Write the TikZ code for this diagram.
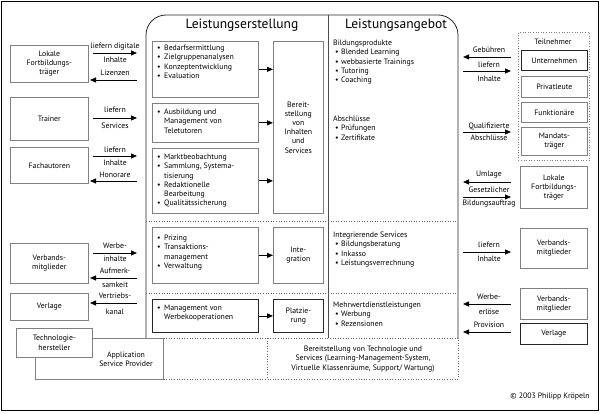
\documentclass[tikz,border=0pt]{standalone}
\usepackage{fontspec}
\setmainfont{PT Sans}
\usetikzlibrary{arrows.meta}
\newcommand{\bl}{\makebox[7pt][l]{•}}
\newcommand{\ind}{\hspace*{7pt}}
\newcommand{\blr}{\hspace*{2pt}\makebox[6pt][l]{•}}
\begin{document}
\begin{tikzpicture}[x=1pt,y=-1pt,
  every node/.style={font=\fontsize{7.8}{9.2}\selectfont, inner sep=0pt},
  gbox/.style={draw=black!50, line width=0.7pt, anchor=north west, align=center},
  kbox/.style={draw=black!85, line width=0.8pt, anchor=north west, align=center},
  lst/.style={align=left, anchor=north west},
  ctr/.style={align=center},
  arr/.style={-{Triangle[length=6pt,width=5pt]}, line width=0.8pt},
  dots/.style={draw=black!60, dotted, line width=0.6pt},
  ttl/.style={font=\fontsize{13.5}{15}\selectfont}
]
\useasboundingbox (0,0) rectangle (600,414);
% outer frame
\draw[line width=1pt] (1.5,1.5) rectangle (598.5,410.5);

% central frame
\draw[line width=0.8pt, black!85, rounded corners=20pt] (146,338) -- (146,15) -- (458,15) -- (458,338);
\draw[line width=0.7pt, black!70] (328,15) -- (328,338);
\draw[dots] (146,221) -- (458,221);
\draw[dots] (146,293) -- (458,293);
\node[ttl] (t1) at (242,25) {Leistungserstellung};
\node[ttl] (t2) at (396,25) {Leistungsangebot};

% left column boxes
\node[gbox, minimum width=106, minimum height=56] (a1) at (152,41) {};
\node[gbox, minimum width=106, minimum height=39] (a2) at (152,103) {};
\node[gbox, minimum width=106, minimum height=65] (a3) at (152,148) {};
\node[gbox, minimum width=106, minimum height=56] (b1) at (152,227) {};
\node[kbox, minimum width=106, minimum height=33] (c1) at (152,299) {};
\node[lst] (a1t) at (157,44) {\strut\bl Bedarfsermittlung\\\bl Zielgruppenanalysen\\\bl Konzeptentwicklung\\\bl Evaluation};
\node[lst] (a2t) at (157,108) {\strut\bl Ausbildung und\\\ind Management von\\\ind Teletutoren};
\node[lst] (a3t) at (157,153) {\strut\bl Marktbeobachtung\\\bl Sammlung, Systema-\\\ind tisierung\\\bl Redaktionelle\\\ind Bearbeitung\\\bl Qualitätssicherung};
\node[lst] (b1t) at (157,234) {\strut\bl Prizing\\\bl Transaktions-\\\ind management\\\bl Verwaltung};
\node[lst] (c1t) at (157,304) {\strut\bl Management von\\\ind Werbekooperationen};

% right boxes of Leistungserstellung
\node[gbox, minimum width=50, minimum height=172] (bs) at (273,41) {Bereit-\\stellung\\von\\Inhalten\\und\\Services};
\node[gbox, minimum width=50, minimum height=56] (ig) at (273,227) {Inte-\\gration};
\node[kbox, minimum width=50, minimum height=33] (pl) at (273,299) {Platzie-\\rung};
\draw[arr] (a1.east) -- (a1.east -| bs.west);
\draw[arr] (a2.east) -- (a2.east -| bs.west);
\draw[arr] (a3.east) -- (a3.east -| bs.west);
\draw[arr] (b1.east) -- (ig.west);
\draw[arr] (c1.east) -- (pl.west);

% Leistungsangebot texts
\node[lst] (r1) at (333,39) {\strut Bildungsprodukte\\\blr Blended Learning\\\blr webbasierte Trainings\\\blr Tutoring\\\blr Coaching};
\node[lst] (r2) at (333,115) {\strut Abschlüsse\\\blr Prüfungen\\\blr Zertifikate};
\node[lst] (r3) at (333,231) {\strut Integrierende Services\\\blr Bildungsberatung\\\blr Inkasso\\\blr Leistungsverrechnung};
\node[lst] (r4) at (333,301) {\strut Mehrwertdienstleistungen\\\blr Werbung\\\blr Rezensionen};

% bottom row
\draw[dots] (163,338) rectangle (458,379);
\draw[dots] (267,338) -- (267,379);
\node[ctr] (bt) at (363,359) {Bereitstellung von Technologie und\\Services (Learning-Management-System,\\Virtuelle Klassenräume, Support/ Wartung)};
\node[gbox, minimum width=128, minimum height=41] (asp) at (35,338) {};
\node[ctr] (aspt) at (126,359.5) {Application\\Service Provider};
\node[gbox, fill=white, minimum width=76, minimum height=29] (tech) at (16,328) {Technologie-\\hersteller};

% left outside boxes
\node[gbox, minimum width=78, minimum height=37] (lft) at (10,45) {Lokale\\Fortbildungs-\\träger};
\node[gbox, minimum width=78, minimum height=43] (tr) at (10,97) {Trainer};
\node[gbox, minimum width=78, minimum height=36] (fa) at (10,147) {Fachautoren};
\node[gbox, minimum width=78, minimum height=40] (vml) at (10,243) {Verbands-\\mitglieder};
\node[gbox, minimum width=78, minimum height=27] (vll) at (10,293) {Verlage};

% left arrows
\coordinate (la1) at (93,53);  \coordinate (lb1) at (137,53);
\coordinate (la2) at (137,80); \coordinate (lb2) at (90,80);
\coordinate (la3) at (93,118); \coordinate (lb3) at (137,118);
\coordinate (la4) at (93,156); \coordinate (lb4) at (137,156);
\coordinate (la5) at (137,181); \coordinate (lb5) at (90,181);
\coordinate (la6) at (93,253); \coordinate (lb6) at (137,253);
\coordinate (la7) at (137,278); \coordinate (lb7) at (90,278);
\coordinate (la8) at (137,303); \coordinate (lb8) at (90,303);
\foreach \i in {1,...,8} {\draw[arr] (la\i) -- (lb\i);}
\node (ll1) at (115,47) {liefern digitale};
\node (ll2) at (115,60) {Inhalte};
\node (ll3) at (115,73) {Lizenzen};
\node (ll4) at (115,110) {liefern};
\node (ll5) at (115,126) {Services};
\node (ll6) at (115,150) {liefern};
\node (ll7) at (115,163) {Inhalte};
\node (ll8) at (115,175) {Honorare};
\node (ll9) at (115,246) {Werbe-};
\node (ll10) at (115,259) {inhalte};
\node (ll11) at (115,271) {Aufmerk-};
\node (ll12) at (115,285) {samkeit};
\node (ll13) at (115,296) {Vertriebs-};
\node (ll14) at (115,312) {kanal};

% right outside boxes
\node[draw=black!50, dotted, line width=0.6pt, anchor=north west, minimum width=71, minimum height=128] (tn) at (518,32) {};
\node (tnt) at (553,42) {Teilnehmer};
\node[kbox, minimum width=66, minimum height=20] (un) at (521,50) {Unternehmen};
\node[gbox, minimum width=66, minimum height=21] (pv) at (521,76) {Privatleute};
\node[gbox, minimum width=66, minimum height=20] (fk) at (521,102) {Funktionäre};
\node[gbox, minimum width=66, minimum height=28] (mt) at (521,127) {Mandats-\\träger};
\node[gbox, minimum width=67, minimum height=42] (lfr) at (520,166) {Lokale\\Fortbildungs-\\träger};
\node[gbox, minimum width=67, minimum height=40] (vm1) at (520,228) {Verbands-\\mitglieder};
\node[gbox, minimum width=67, minimum height=31] (vm2) at (520,288) {Verbands-\\mitglieder};
\node[kbox, minimum width=67, minimum height=21] (vlr) at (520,323) {Verlage};

% right arrows
\coordinate (ra1) at (511,57);  \coordinate (rb1) at (463,57);
\coordinate (ra2) at (463,71);  \coordinate (rb2) at (511,71);
\coordinate (ra3) at (463,132); \coordinate (rb3) at (511,132);
\coordinate (ra4) at (511,182); \coordinate (rb4) at (463,182);
\coordinate (ra5) at (463,197); \coordinate (rb5) at (511,197);
\coordinate (ra6) at (463,252); \coordinate (rb6) at (511,252);
\coordinate (ra7) at (511,304); \coordinate (rb7) at (463,304);
\coordinate (ra8) at (511,332); \coordinate (rb8) at (463,332);
\foreach \i in {1,...,8} {\draw[arr] (ra\i) -- (rb\i);}
\node (rl1) at (489,50) {Gebühren};
\node (rl2) at (489,65) {liefern};
\node (rl3) at (489,79) {Inhalte};
\node (rl4) at (489,126) {Qualifizierte};
\node (rl5) at (489,138) {Abschlüsse};
\node (rl6) at (489,175) {Umlage};
\node (rl7) at (489,190) {Gesetzlicher};
\node (rl8) at (489,204) {Bildungsauftrag};
\node (rl9) at (489,245) {liefern};
\node (rl10) at (489,259) {Inhalte};
\node (rl11) at (489,297) {Werbe-};
\node (rl12) at (489,312) {erlöse};
\node (rl13) at (489,325) {Provision};

\node (cp) at (550,397) {© 2003 Philipp Kröpeln};
\end{tikzpicture}
\end{document}
